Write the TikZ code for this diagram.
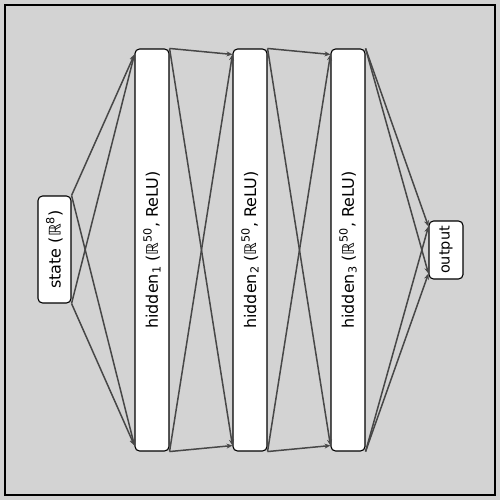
\documentclass[tikz,border=0pt]{standalone}
\usepackage{fontspec}
\setmainfont{DejaVu Sans}
\usetikzlibrary{arrows.meta}
\begin{document}
\begin{tikzpicture}[x=1pt,y=-1pt,
  box/.style={draw=black, fill=white, line width=1.1pt, rounded corners=4.5pt, inner sep=0pt},
  lbl/.style={rotate=90, font=\fontsize{16}{19}\selectfont, inner sep=0pt},
  edge/.style={draw=black!72, line width=1.5pt, -{Stealth[length=6pt,width=5pt]}, shorten >=0pt}]
\fill[fill={rgb,255:red,211;green,211;blue,211}] (0,0) rectangle (500,500);
\draw[line width=1.2pt] (5,5) rectangle (495,495);
\useasboundingbox (0,0) rectangle (500,500);
% nodes
\node[box, minimum width=33pt, minimum height=107pt] (s) at (54.5,249.5) {};
\node[lbl] (sl) at (s.center) {state (ℝ\textsuperscript{8})};
\node[box, minimum width=34pt, minimum height=402pt] (h1) at (152,250) {};
\node[lbl] (h1l) at (h1.center) {hidden\textsubscript{1} (ℝ\textsuperscript{50}, ReLU)};
\node[box, minimum width=34pt, minimum height=402pt] (h2) at (250,250) {};
\node[lbl] (h2l) at (h2.center) {hidden\textsubscript{2} (ℝ\textsuperscript{50}, ReLU)};
\node[box, minimum width=34pt, minimum height=402pt] (h3) at (348,250) {};
\node[lbl] (h3l) at (h3.center) {hidden\textsubscript{3} (ℝ\textsuperscript{50}, ReLU)};
\node[box, minimum width=34pt, minimum height=58pt] (o) at (446,250) {};
\node[lbl, font=\fontsize{14.5}{17}\selectfont] (ol) at (o.center) {output};
% connectors
\foreach \a/\b in {s/h1, h1/h2, h2/h3, h3/o} {
  \draw[edge] (\a.north east) -- ([yshift=-6pt]\b.north west);
  \draw[edge] (\a.north east) -- ([yshift=6pt]\b.south west);
  \draw[edge] (\a.south east) -- ([yshift=-6pt]\b.north west);
  \draw[edge] (\a.south east) -- ([yshift=6pt]\b.south west);
}
\end{tikzpicture}
\end{document}
